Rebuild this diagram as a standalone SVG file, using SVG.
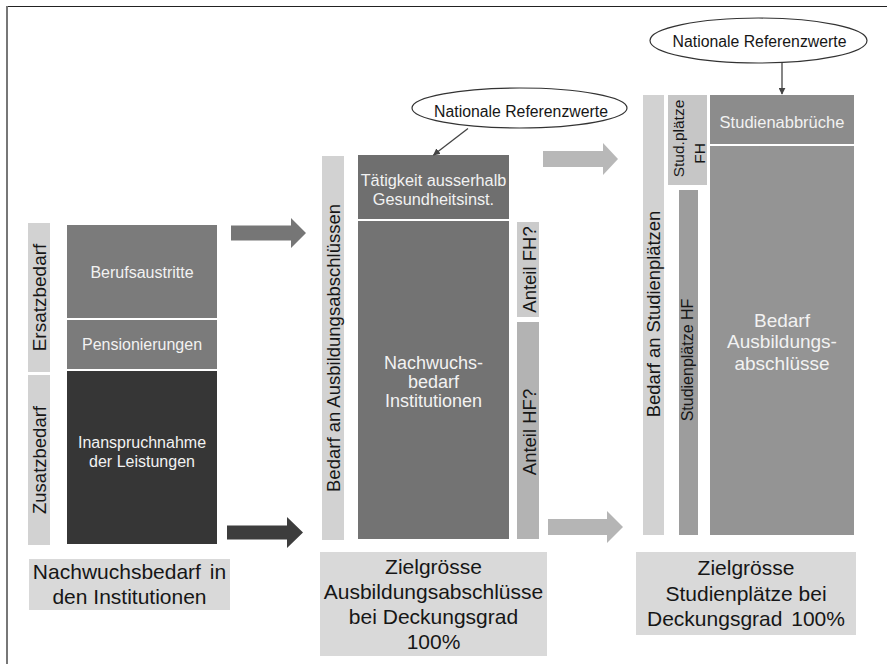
<svg xmlns="http://www.w3.org/2000/svg" width="887" height="664" viewBox="0 0 887 664">
<defs>
<style>
text{font-family:"Liberation Sans",Arial,sans-serif;}
.w{fill:#f2f2f2;text-anchor:middle;}
.d{fill:#161616;text-anchor:middle;}
.bar{fill:#d2d2d2;}
.lab{fill:#d9d9d9;}
.mid{fill:#737373;}
.ell{fill:#ffffff;stroke:#333333;stroke-width:1.2;}
.ln{stroke:#444444;stroke-width:1.3;fill:none;marker-end:url(#ah);}
</style>
<marker id="ah" viewBox="0 0 10 10" refX="9" refY="5" markerWidth="7" markerHeight="7" orient="auto" markerUnits="userSpaceOnUse">
<path d="M0,0 L10,5 L0,10 z" fill="#444444"/>
</marker>
</defs>
<rect x="0" y="0" width="887" height="664" fill="#ffffff"/>
<line x1="6" y1="6.5" x2="887" y2="6.5" stroke="#222222" stroke-width="1.2"/>
<line x1="7" y1="6" x2="7" y2="664" stroke="#777777" stroke-width="2"/>

<g id="ersatzbedarf">
<rect class="bar" x="28" y="223" width="22" height="149"/>
<text class="d" font-size="19" transform="translate(45.5,297.5) rotate(-90)">Ersatzbedarf</text>
</g>
<g id="zusatzbedarf">
<rect class="bar" x="28" y="375" width="22" height="170"/>
<text class="d" font-size="18.5" transform="translate(45.5,460) rotate(-90)">Zusatzbedarf</text>
</g>
<g id="berufsaustritte">
<rect x="67" y="225" width="150" height="93" fill="#7b7b7b"/>
<text class="w" x="142" y="278" font-size="16">Berufsaustritte</text>
</g>
<g id="pensionierungen">
<rect x="67" y="320" width="150" height="49" fill="#7b7b7b"/>
<text class="w" x="142" y="350" font-size="16">Pensionierungen</text>
</g>
<g id="inanspruchnahme">
<rect x="67" y="371" width="150" height="173" fill="#363636"/>
<text class="w" x="142" y="448" font-size="16">Inanspruchnahme</text>
<text class="w" x="142" y="467" font-size="16">der Leistungen</text>
</g>
<g id="label-nachwuchsbedarf">
<rect class="lab" x="29" y="559" width="201" height="51"/>
<text class="d" x="129.5" y="579" font-size="21" word-spacing="3">Nachwuchsbedarf in</text>
<text class="d" x="129.5" y="604" font-size="21">den Institutionen</text>
</g>

<g id="bedarf-ausbildungsabschluesse">
<rect class="bar" x="322" y="156" width="22" height="384"/>
<text class="d" font-size="18.5" transform="translate(340,348) rotate(-90)">Bedarf an Ausbildungsabschlüssen</text>
</g>
<g id="taetigkeit">
<rect x="358" y="155" width="151" height="64" fill="#6f6f6f"/>
<text class="w" x="433.5" y="186" font-size="16.3">Tätigkeit ausserhalb</text>
<text class="w" x="433.5" y="205" font-size="16.3">Gesundheitsinst.</text>
</g>
<g id="nachwuchsbedarf-institutionen">
<rect class="mid" x="358" y="221" width="151" height="318"/>
<text class="w" x="433.5" y="369" font-size="18">Nachwuchs-</text>
<text class="w" x="433.5" y="388" font-size="18">bedarf</text>
<text class="w" x="433.5" y="407" font-size="18">Institutionen</text>
</g>
<g id="anteil-fh">
<rect x="517" y="222" width="22" height="95" fill="#cbcbcb"/>
<text class="d" font-size="18.5" transform="translate(535.5,269.5) rotate(-90)">Anteil FH?</text>
</g>
<g id="anteil-hf">
<rect x="517" y="322" width="22" height="217" fill="#b3b3b3"/>
<text class="d" font-size="18.5" transform="translate(535.5,432) rotate(-90)">Anteil HF?</text>
</g>
<g id="label-zielgroesse-ausbildung">
<rect class="lab" x="320" y="552" width="227" height="104"/>
<text class="d" x="433.5" y="574" font-size="21">Zielgrösse</text>
<text class="d" x="433.5" y="599" font-size="21">Ausbildungsabschlüsse</text>
<text class="d" x="433.5" y="624" font-size="21">bei Deckungsgrad</text>
<text class="d" x="433.5" y="649" font-size="21">100%</text>
</g>
<g id="referenz-1">
<ellipse class="ell" cx="519.5" cy="108" rx="107.5" ry="20"/>
<text x="521" y="117" font-size="15.8" fill="#161616" text-anchor="middle">Nationale Referenzwerte</text>
</g>

<g id="bedarf-studienplaetze">
<rect class="bar" x="643" y="95" width="21" height="440"/>
<text class="d" font-size="18.4" transform="translate(659.5,314) rotate(-90)">Bedarf an Studienplätzen</text>
</g>
<g id="studplaetze-fh">
<rect x="668" y="95" width="39" height="90" fill="#c6c6c6"/>
<text class="d" font-size="15.5" transform="translate(684,138.5) rotate(-90)">Stud.plätze</text>
<text class="d" font-size="15.5" transform="translate(705,153.5) rotate(-90)">FH</text>
</g>
<g id="studienplaetze-hf">
<rect x="679" y="190" width="19" height="345" fill="#9d9d9d"/>
<text class="d" font-size="16" transform="translate(693,360) rotate(-90)">Studienplätze HF</text>
</g>
<g id="studienabbrueche">
<rect x="710" y="95" width="144" height="49" fill="#8c8c8c"/>
<text class="w" x="782" y="128" font-size="16.5">Studienabbrüche</text>
</g>
<g id="bedarf-ausbildungsabschluesse-rechts">
<rect x="710" y="146" width="144" height="389" fill="#949494"/>
<text class="w" x="782" y="327" font-size="19">Bedarf</text>
<text class="w" x="782" y="348" font-size="19">Ausbildungs-</text>
<text class="w" x="782" y="370" font-size="19">abschlüsse</text>
</g>
<g id="label-zielgroesse-studienplaetze">
<rect class="lab" x="636" y="552" width="220" height="83"/>
<text class="d" x="746" y="575" font-size="21">Zielgrösse</text>
<text class="d" x="746" y="601" font-size="21">Studienplätze bei</text>
<text class="d" x="746" y="626" font-size="21" word-spacing="3">Deckungsgrad 100%</text>
</g>
<g id="referenz-2">
<ellipse class="ell" cx="758.5" cy="40.5" rx="108.5" ry="22.5"/>
<text x="759.5" y="47" font-size="15.8" fill="#161616" text-anchor="middle">Nationale Referenzwerte</text>
</g>

<g id="connectors">
<polygon points="231,225.5 291,225.5 291,218 306,233 291,248 291,240.5 231,240.5" fill="#767676"/>
<polygon points="227,525.5 287,525.5 287,517 303,532.5 287,548 287,539.5 227,539.5" fill="#3d3d3d"/>
<polygon points="543,151 603,151 603,143 618,159 603,175 603,167 543,167" fill="#b8b8b8"/>
<polygon points="548,519 607,519 607,511 623,527 607,543 607,535 548,535" fill="#b5b5b5"/>
<line class="ln" x1="468" y1="128.5" x2="433.5" y2="155"/>
<line class="ln" x1="782" y1="63" x2="782" y2="94"/>
</g>
</svg>
